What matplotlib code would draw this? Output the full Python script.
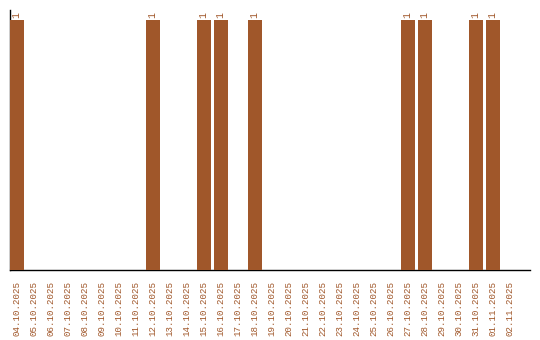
import matplotlib
matplotlib.use("Agg")
import matplotlib.pyplot as plt

dates = ["04.10.2025", "05.10.2025", "06.10.2025", "07.10.2025", "08.10.2025",
         "09.10.2025", "10.10.2025", "11.10.2025", "12.10.2025", "13.10.2025",
         "14.10.2025", "15.10.2025", "16.10.2025", "17.10.2025", "18.10.2025",
         "19.10.2025", "20.10.2025", "21.10.2025", "22.10.2025", "23.10.2025",
         "24.10.2025", "25.10.2025", "26.10.2025", "27.10.2025", "28.10.2025",
         "29.10.2025", "30.10.2025", "31.10.2025", "01.11.2025", "02.11.2025"]
values = [1, 0, 0, 0, 0, 0, 0, 0, 1, 0,
          0, 1, 1, 0, 1, 0, 0, 0, 0, 0,
          0, 0, 0, 1, 1, 0, 0, 1, 1, 0]

color = "#A0572A"
fig = plt.figure(figsize=(5.4, 3.4), dpi=100)
ax = fig.add_axes([10/540, 1 - 270/340, 520/540, 260/340])
x = list(range(len(dates)))
bw = 14/17
ax.bar(x, values, width=bw, color=color, zorder=3)
for xi, v in zip(x, values):
    if v:
        ax.text(xi - 0.05, v + 0.01, str(v), rotation=90, ha="center", va="bottom",
                color=color, fontsize=7, family="Liberation Mono")
ax.set_xlim(-bw/2, -bw/2 + 520/17)
ax.set_ylim(0, 1.04)
ax.set_xticks(x)
ax.set_xticklabels(dates, rotation=90, family="Liberation Mono", fontsize=6.6, color=color)
ax.tick_params(axis="x", length=0, pad=8)
ax.set_yticks([])
for s in ["top", "right"]:
    ax.spines[s].set_visible(False)
ax.spines["left"].set_linewidth(1)
ax.spines["bottom"].set_linewidth(1)
fig.savefig("out.png", dpi=100)
